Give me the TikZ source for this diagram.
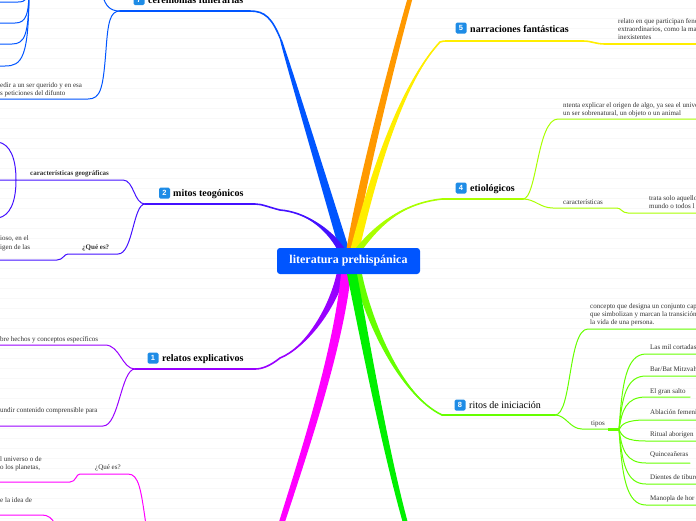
\documentclass[tikz,border=0pt]{standalone}
\usepackage{fontspec}
\setmainfont{Liberation Serif}
\setsansfont{Liberation Sans}
\usetikzlibrary{calc}
\definecolor{cBlue}{RGB}{0,85,255}
\definecolor{cIndigo}{RGB}{68,17,255}
\definecolor{cPurple}{RGB}{153,0,255}
\definecolor{cMagenta}{RGB}{255,0,255}
\definecolor{cOrange}{RGB}{255,153,0}
\definecolor{cYellow}{RGB}{255,238,0}
\definecolor{cLime}{RGB}{170,255,0}
\definecolor{cLtGreen}{RGB}{102,255,0}
\definecolor{cGreen}{RGB}{0,240,0}
\definecolor{cIcon}{RGB}{30,140,230}
\definecolor{txt}{RGB}{51,51,51}
\definecolor{bgl}{RGB}{248,248,248}
\newcommand{\brtaper}[9]{%
  \fill[#1] ($#2+(-#6,0)$) .. controls ($#3+(-#7,0)$) and ($#4+(-#8,0)$) .. ($#5+(-#9,0)$)
     -- ($#5+(#9,0)$) .. controls ($#4+(#8,0)$) and ($#3+(#7,0)$) .. ($#2+(#6,0)$) -- cycle;}
\tikzset{
  small/.style={font=\fontsize{7}{8.5}\selectfont, text=txt, inner sep=0, anchor=base west},
  smallb/.style={small, font=\fontsize{7}{8.5}\selectfont\bfseries},
  mainlbl/.style={font=\fontsize{10}{12}\selectfont\bfseries, text=black, inner sep=0, anchor=base west},
  icon/.style={fill=cIcon, rounded corners=1.5, minimum size=11, inner sep=0, text=white,
               font=\sffamily\bfseries\fontsize{7.5}{8}\selectfont},
  rootbox/.style={fill=cBlue, rounded corners=3, minimum width=143, minimum height=26, inner sep=0,
               text=white, font=\fontsize{12}{14}\selectfont\bfseries},
  sub/.style={line width=1, line cap=round},
  lbl/.style={line width=1.6, line cap=round},
  bgline/.style={draw=bgl, line width=0.6},
}
\begin{document}
\begin{tikzpicture}[x=1pt,y=-1pt]
\useasboundingbox (0,0) rectangle (696,520);
\fill[white] (0,0) rectangle (696,520);
\foreach \yy in {8,18,...,518} \draw[bgline] (0,\yy) -- (696,\yy);

% hub coordinates
\coordinate (cerA) at (120,11);
\coordinate (fanA) at (29,-12);
\coordinate (mitA) at (145,204);
\coordinate (geoA) at (16,180);
\coordinate (relA) at (135,369);
\coordinate (magA) at (146,525);
\coordinate (etiA) at (523,199);
\coordinate (ritA) at (555,415);
\coordinate (tipA) at (619,429.5);

% ---- 7 ceremonias funerarias (blue)
\brtaper{cBlue}{(344,249)}{(336,222)}{(290,70)}{(281,40)}{5}{4.5}{2.5}{1}
\draw[cBlue,lbl] (281,40) .. controls (272,18) and (265,11) .. (250,11) -- (cerA);
\draw[cBlue,sub] (cerA) .. controls (110,11) and (106,6) .. (103,-3);
\draw[cBlue,sub] (cerA) .. controls (110,11) and (108,22) .. (106,50) .. controls (103,88) and (101,99) .. (88,99) -- (-2,99);
\draw[cBlue,sub] (fanA) .. controls (29,-2) and (26,2) .. (18,2) -- (-2,2);
\draw[cBlue,sub] (fanA) .. controls (29,15) and (26,23) .. (15,23) -- (-2,23);
\draw[cBlue,sub] (fanA) .. controls (29,35) and (25,44) .. (12,44) -- (-2,44);
\draw[cBlue,sub] (fanA) .. controls (29,58) and (22,66) .. (5,66) -- (-2,66);

% ---- 2 mitos teogonicos (indigo)
\brtaper{cIndigo}{(341,249)}{(328,228)}{(305,212)}{(280,210)}{4}{3}{1}{0}
\draw[cIndigo,lbl] (341,249) .. controls (328,228) and (305,212) .. (280,210) .. controls (268,207) and (262,204) .. (255,204) -- (mitA);
\draw[cIndigo,sub] (mitA) .. controls (134,204) and (134,180) .. (123,180) -- (geoA) -- (-2,180);
\draw[cIndigo,sub] (geoA) .. controls (16,158) and (10,144) .. (-2,142);
\draw[cIndigo,sub] (geoA) .. controls (16,202) and (10,216) .. (-2,218);
\draw[cIndigo,sub] (mitA) .. controls (133,204) and (133,254) .. (118,254) -- (68,254) .. controls (64,254) and (63,260) .. (57,260) -- (-2,260);

% ---- 1 relatos explicativos (purple)
\brtaper{cPurple}{(341,274)}{(332,310)}{(305,348)}{(280,358)}{4.5}{3.5}{1.5}{0}
\draw[cPurple,lbl] (341,274) .. controls (332,310) and (305,348) .. (280,358) .. controls (270,366) and (262,369) .. (255,369) -- (relA);
\draw[cPurple,sub] (relA) .. controls (122,369) and (120,345) .. (105,345) -- (-2,345);
\draw[cPurple,sub] (relA) .. controls (121,369) and (119,426) .. (103,426) -- (-2,426);

% ---- magenta
\brtaper{cMagenta}{(346,274)}{(338,350)}{(305,450)}{(281,525)}{5}{4.5}{3.5}{3}
\draw[cMagenta,sub] (magA) .. controls (141,490) and (139,474) .. (128,474) -- (80,474) .. controls (76,474) and (76,482) .. (70,482) -- (-2,482);
\draw[cMagenta,sub] (-2,515) -- (42,515) .. controls (48,515) and (52,518) .. (55,524);

% ---- orange
\brtaper{cOrange}{(351,249)}{(360,190)}{(390,70)}{(411,-5)}{4.5}{4}{3}{2.5}

% ---- 5 narraciones fantasticas (yellow)
\brtaper{cYellow}{(355,249)}{(372,180)}{(400,85)}{(440,42)}{4.5}{3.5}{2}{0}
\draw[cYellow,lbl] (355,249) .. controls (372,180) and (400,85) .. (440,42) .. controls (443,41) .. (450,41) -- (583,41) .. controls (592,41) and (595,44) .. (605,44) -- (698,44);

% ---- 4 etiologicos (lime)
\brtaper{cLime}{(359,249)}{(380,222)}{(405,203)}{(442,199)}{4}{3}{1}{0}
\draw[cLime,lbl] (359,249) .. controls (380,222) and (405,203) .. (442,199) -- (etiA);
\draw[cLime,sub] (etiA) .. controls (537,199) and (537,119) .. (558,119) -- (698,119);
\draw[cLime,sub] (etiA) .. controls (535,199) and (540,208) .. (553,208) -- (617,208) .. controls (621,208) and (622,213) .. (628,213) -- (698,213);

% ---- 8 ritos de iniciacion (light green)
\brtaper{cLtGreen}{(358,274)}{(368,320)}{(400,395)}{(442,415)}{4}{3.5}{1.5}{0}
\draw[cLtGreen,lbl] (358,274) .. controls (368,320) and (400,395) .. (442,415) -- (ritA);
\draw[cLtGreen,sub] (ritA) .. controls (572,415) and (568,329) .. (588,329) -- (698,329);
\draw[cLtGreen,sub] (ritA) .. controls (566,415) and (570,429) .. (582,429) -- (608,429);
\draw[cLtGreen,line width=3] (608,429.5) -- (tipA);
\foreach \yy/\xe in {354/698,376/698,397/690,420/698,441/698,463/690,484/698,505/698} {
  \pgfmathsetmacro\cy{430+0.6*(\yy-430)}
  \draw[cLtGreen,sub] (tipA) .. controls (622,\cy) and (626,\yy) .. (646,\yy) -- (\xe,\yy);
}

% ---- green
\brtaper{cGreen}{(352,274)}{(365,340)}{(385,450)}{(406,525)}{5}{4.5}{3}{2.5}

% ---- root
\node[rootbox] (root) at (348.5,261) {literatura prehispánica};

% ---- main labels
\node[icon] (i7) at (139,-0.5) {7};
\node[mainlbl] (l7) at (148,3.5) {ceremonias funerarias};
\node[icon] (i2) at (164.5,193) {2};
\node[mainlbl] (l2) at (173,196.5) {mitos teogónicos};
\node[icon] (i1) at (153,358) {1};
\node[mainlbl] (l1) at (162,361.5) {relatos explicativos};
\node[icon] (i5) at (461,28) {5};
\node[mainlbl] (l5) at (470,32.5) {narraciones fantásticas};
\node[icon] (i4) at (461,188) {4};
\node[mainlbl] (l4) at (470,191) {etiológicos};
\node[icon] (i8) at (460,405) {8};
\node[mainlbl, font=\fontsize{10}{12}\selectfont] (l8) at (469,408.5) {ritos de iniciación};

% ---- small texts (left)
\node[small] (t1) at (0,87.5) {edir a un ser querido y en esa};
\node[small] (t2) at (0,95.5) {s peticiones del difunto};
\node[smallb] (t3) at (30,175.5) {características geográficas};
\node[small] (t4) at (0,240.5) {ioso, en el};
\node[small] (t5) at (0,249.5) {igen de las};
\node[smallb] (t6) at (82,249.5) {¿Qué es?};
\node[small] (t7) at (0,341.5) {bre hechos y conceptos específicos};
\node[small] (t8) at (0,412.5) {undir contenido comprensible para};
\node[small] (t9) at (0,461.5) {l universo o de};
\node[small] (t10) at (0,469.5) {o los planetas,};
\node[small] (t11) at (95,469.5) {¿Qué es?};
\node[small] (t12) at (0,502.5) {e la idea de};

% ---- small texts (right)
\node[small] (r1) at (618,23.5) {relato en que participan fenó};
\node[small] (r2) at (618,31.5) {extraordinarios, como la ma};
\node[small] (r3) at (618,39.5) {inexistentes};
\node[small] (r4) at (563,107.5) {ntenta explicar el origen de algo, ya sea el unive};
\node[small] (r5) at (563,115.5) {un ser sobrenatural, un objeto o un animal};
\node[small] (r6) at (563,204.5) {características};
\node[small] (r7) at (649,200.5) {trata solo aquello};
\node[small] (r8) at (649,208.5) {mundo o todos l};
\node[small] (r9) at (590,308) {concepto que designa un conjunto cap};
\node[small] (r10) at (590,316.5) {que simbolizan y marcan la transición};
\node[small] (r11) at (590,324.5) {la vida de una persona.};
\node[small] (r12) at (591,425.5) {tipos};
\node[small] (k1) at (650,349.5) {Las mil cortadas};
\node[small] (k2) at (650,371.5) {Bar/Bat Mitzvah};
\node[small] (k3) at (650,393.5) {El gran salto};
\node[small] (k4) at (650,414.5) {Ablación femeni};
\node[small] (k5) at (650,436.5) {Ritual aborigen};
\node[small] (k6) at (650,456.5) {Quinceañeras};
\node[small] (k7) at (650,479.5) {Dientes de tiburó};
\node[small] (k8) at (650,500.5) {Manopla de hor};
\end{tikzpicture}
\end{document}
